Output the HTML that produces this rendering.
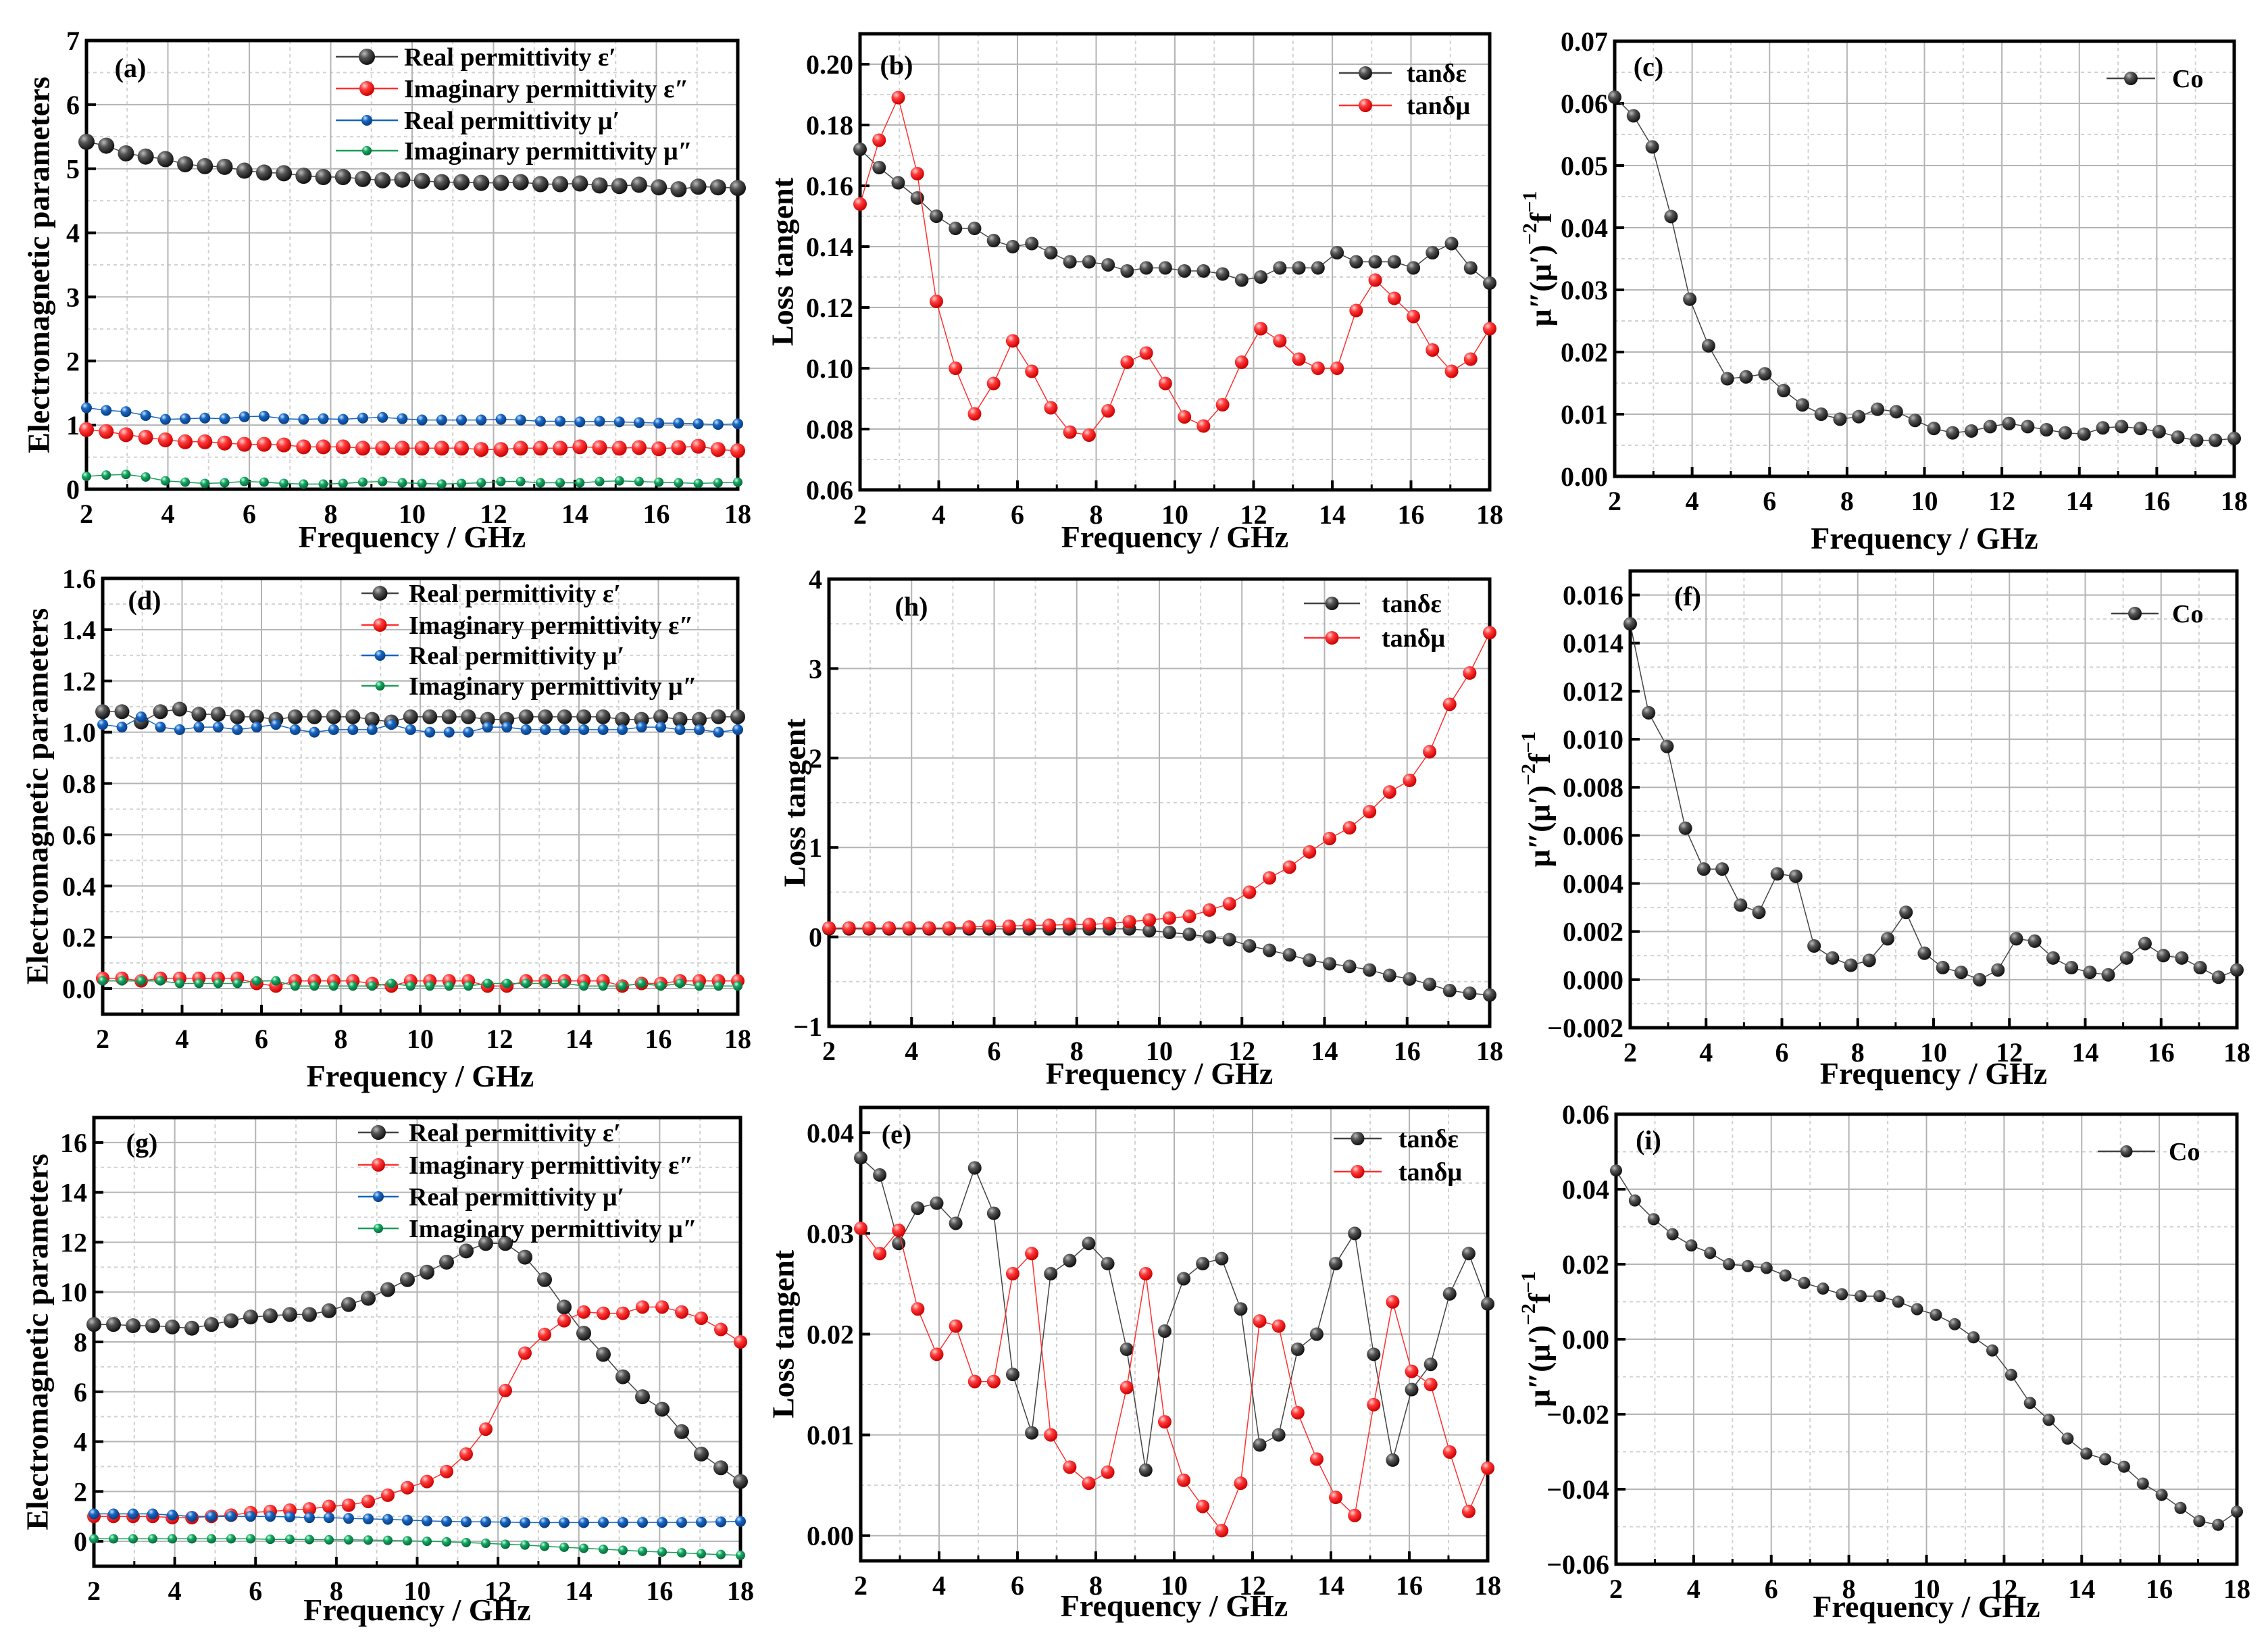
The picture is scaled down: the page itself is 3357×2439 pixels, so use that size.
<!DOCTYPE html>
<html><head><meta charset="utf-8">
<style>
html,body{margin:0;padding:0;background:#fff;}
svg{display:block;}
text{font-family:"Liberation Serif","DejaVu Serif",serif;font-weight:bold;fill:#000;}
</style></head>
<body>
<svg id="fig" width="3357" height="2439" viewBox="0 0 3357 2439" xmlns="http://www.w3.org/2000/svg">
<defs>
<radialGradient id="g-black" cx="35%" cy="30%" r="70%"><stop offset="0" stop-color="#bbb"/><stop offset="0.4" stop-color="#555"/><stop offset="1" stop-color="#111"/></radialGradient>
<radialGradient id="g-red" cx="35%" cy="30%" r="70%"><stop offset="0" stop-color="#ffd0d0"/><stop offset="0.4" stop-color="#ff3b3b"/><stop offset="1" stop-color="#c00"/></radialGradient>
<radialGradient id="g-blue" cx="35%" cy="30%" r="70%"><stop offset="0" stop-color="#cfe3ff"/><stop offset="0.4" stop-color="#1667c4"/><stop offset="1" stop-color="#0a3d80"/></radialGradient>
<radialGradient id="g-green" cx="35%" cy="30%" r="70%"><stop offset="0" stop-color="#d0ffe6"/><stop offset="0.4" stop-color="#14a862"/><stop offset="1" stop-color="#08693a"/></radialGradient>
</defs>
</svg>
<script>
// ---- data (34 points, 2..18 GHz) ----
const freqStart = 2, freqEnd = 18, nPts = 34;
const xTicks = [2,4,6,8,10,12,14,16,18];

const aEpsR = [5.42,5.36,5.24,5.19,5.15,5.07,5.04,5.03,4.97,4.94,4.93,4.89,4.87,4.87,4.84,4.82,4.83,4.81,4.79,4.79,4.78,4.78,4.79,4.76,4.76,4.77,4.74,4.73,4.75,4.71,4.68,4.72,4.71,4.70];
const aEpsI = [0.93,0.90,0.85,0.81,0.77,0.74,0.74,0.72,0.70,0.70,0.69,0.66,0.66,0.66,0.64,0.64,0.64,0.64,0.64,0.64,0.62,0.62,0.64,0.64,0.64,0.66,0.65,0.64,0.65,0.63,0.65,0.67,0.62,0.60];
const aMuR = [1.27,1.23,1.21,1.15,1.09,1.10,1.11,1.10,1.13,1.14,1.10,1.09,1.10,1.09,1.11,1.12,1.10,1.08,1.08,1.08,1.08,1.09,1.08,1.06,1.06,1.05,1.06,1.05,1.04,1.03,1.03,1.02,1.01,1.02];
const aMuI = [0.20,0.22,0.23,0.19,0.13,0.11,0.09,0.10,0.12,0.11,0.09,0.08,0.08,0.09,0.11,0.12,0.10,0.09,0.08,0.09,0.10,0.12,0.12,0.10,0.10,0.10,0.12,0.13,0.12,0.11,0.10,0.09,0.10,0.11];

const bTanE = [0.172,0.166,0.161,0.156,0.150,0.146,0.146,0.142,0.140,0.141,0.138,0.135,0.135,0.134,0.132,0.133,0.133,0.132,0.132,0.131,0.129,0.130,0.133,0.133,0.133,0.138,0.135,0.135,0.135,0.133,0.138,0.141,0.133,0.128];
const bTanM = [0.154,0.175,0.189,0.164,0.122,0.100,0.085,0.095,0.109,0.099,0.087,0.079,0.078,0.086,0.102,0.105,0.095,0.084,0.081,0.088,0.102,0.113,0.109,0.103,0.100,0.100,0.119,0.129,0.123,0.117,0.106,0.099,0.103,0.113];

const cCo = [0.061,0.058,0.053,0.0418,0.0285,0.021,0.0157,0.016,0.0165,0.0138,0.0115,0.0100,0.0092,0.0096,0.0108,0.0104,0.0090,0.0077,0.0070,0.0073,0.0080,0.0085,0.0080,0.0075,0.0070,0.0068,0.0078,0.0080,0.0077,0.0072,0.0063,0.0058,0.0058,0.0061];

const dEpsR = [1.08,1.08,1.04,1.08,1.09,1.07,1.07,1.06,1.06,1.05,1.06,1.06,1.06,1.06,1.05,1.04,1.06,1.06,1.06,1.06,1.05,1.05,1.06,1.06,1.06,1.06,1.06,1.05,1.05,1.06,1.05,1.05,1.06,1.06];
const dEpsI = [0.04,0.04,0.03,0.04,0.04,0.04,0.04,0.04,0.02,0.01,0.03,0.03,0.03,0.03,0.02,0.01,0.03,0.03,0.03,0.03,0.01,0.01,0.03,0.03,0.03,0.03,0.03,0.01,0.02,0.02,0.03,0.03,0.03,0.03];
const dMuR = [1.03,1.02,1.06,1.02,1.01,1.02,1.02,1.01,1.02,1.03,1.01,1.00,1.01,1.01,1.01,1.03,1.01,1.00,1.00,1.00,1.02,1.02,1.01,1.01,1.01,1.01,1.01,1.01,1.02,1.02,1.01,1.01,1.00,1.01];
const dMuI = [0.03,0.03,0.03,0.03,0.02,0.02,0.02,0.02,0.03,0.03,0.01,0.01,0.01,0.01,0.01,0.02,0.01,0.01,0.01,0.01,0.02,0.02,0.02,0.02,0.02,0.01,0.01,0.01,0.02,0.01,0.02,0.01,0.01,0.01];

const hTanE = [0.09,0.09,0.09,0.09,0.09,0.09,0.09,0.09,0.09,0.09,0.09,0.09,0.09,0.09,0.09,0.09,0.07,0.05,0.03,0.00,-0.03,-0.10,-0.15,-0.20,-0.26,-0.30,-0.33,-0.37,-0.43,-0.47,-0.53,-0.60,-0.63,-0.65];
const hTanM = [0.10,0.10,0.10,0.10,0.10,0.10,0.10,0.11,0.12,0.12,0.13,0.13,0.14,0.14,0.15,0.17,0.19,0.21,0.23,0.30,0.37,0.50,0.66,0.78,0.95,1.10,1.22,1.40,1.62,1.75,2.07,2.60,2.95,3.40];

const fCo = [0.0148,0.0111,0.0097,0.0063,0.0046,0.0046,0.0031,0.0028,0.0044,0.0043,0.0014,0.0009,0.0006,0.0008,0.0017,0.0028,0.0011,0.0005,0.0003,0.0000,0.0004,0.0017,0.0016,0.0009,0.0005,0.0003,0.0002,0.0009,0.0015,0.0010,0.0009,0.0005,0.0001,0.0004];

const gEpsR = [8.7,8.7,8.65,8.65,8.6,8.55,8.7,8.85,9.0,9.05,9.1,9.1,9.25,9.5,9.75,10.1,10.5,10.8,11.2,11.65,11.95,11.95,11.4,10.5,9.4,8.35,7.5,6.6,5.8,5.3,4.4,3.5,2.95,2.4];
const gEpsI = [1.0,1.0,1.0,1.0,0.95,0.95,1.0,1.05,1.15,1.2,1.25,1.3,1.4,1.45,1.6,1.85,2.15,2.4,2.8,3.5,4.5,6.05,7.55,8.3,8.85,9.2,9.15,9.15,9.4,9.4,9.2,8.95,8.5,8.0];
const gMuR = [1.1,1.1,1.1,1.1,1.05,1.0,1.0,1.0,1.0,1.0,0.98,0.95,0.95,0.92,0.9,0.88,0.85,0.82,0.8,0.78,0.78,0.77,0.75,0.75,0.75,0.75,0.76,0.76,0.76,0.76,0.76,0.77,0.78,0.8];
const gMuI = [0.1,0.1,0.1,0.1,0.1,0.1,0.1,0.1,0.1,0.08,0.08,0.07,0.06,0.06,0.05,0.04,0.02,0.0,-0.02,-0.05,-0.08,-0.12,-0.15,-0.2,-0.24,-0.28,-0.32,-0.36,-0.4,-0.43,-0.46,-0.5,-0.53,-0.56];

const eTanE = [0.0375,0.0358,0.029,0.0325,0.033,0.031,0.0365,0.032,0.016,0.0102,0.026,0.0273,0.029,0.027,0.0185,0.0065,0.0203,0.0255,0.027,0.0275,0.0225,0.009,0.010,0.0185,0.020,0.027,0.030,0.018,0.0075,0.0145,0.017,0.024,0.028,0.023];
const eTanM = [0.0305,0.028,0.0303,0.0225,0.018,0.0208,0.0153,0.0153,0.026,0.028,0.010,0.0068,0.0052,0.0063,0.0147,0.026,0.0113,0.0055,0.0029,0.0005,0.0052,0.0213,0.0208,0.0122,0.0076,0.0038,0.002,0.013,0.0232,0.0163,0.015,0.0083,0.0024,0.0067];

const iCo = [0.045,0.037,0.032,0.028,0.025,0.023,0.020,0.0195,0.019,0.017,0.015,0.0135,0.012,0.0115,0.0115,0.010,0.008,0.0065,0.004,0.0005,-0.003,-0.0095,-0.017,-0.0215,-0.0265,-0.0305,-0.032,-0.034,-0.0385,-0.0415,-0.045,-0.0485,-0.0495,-0.046];

// ---- rendering ----
const NS = "http://www.w3.org/2000/svg";
const svg = document.getElementById('fig');
const COL = {black:'#444', red:'#ff3030', blue:'#1565c0', green:'#1a9e5a'};
function mk(tag, attrs, parent){
  const el = document.createElementNS(NS, tag);
  for (const k in attrs) el.setAttribute(k, attrs[k]);
  (parent||svg).appendChild(el);
  return el;
}
const EP = ['Real permittivity \u03B5\u2032','Imaginary permittivity \u03B5\u2033','Real permittivity \u03BC\u2032','Imaginary permittivity \u03BC\u2033'];
const YT_EM = 'Electromagnetic parameters', YT_LT = 'Loss tangent';

const panels = [
 {id:'a', L:128,R:1092,T:60,B:724, y0:0,y1:7, yStep:1, dec:0, lbl:[193,100], yt:YT_EM, ytx:57, xly:810,
  series:[[aEpsR,'black',12],[aEpsI,'red',11],[aMuR,'blue',8],[aMuI,'green',7]], names:EP, leg:[497,589,598,[84,131,178,223]]},
 {id:'b', L:1273,R:2205,T:50,B:725, y0:0.06,y1:0.21, yStep:0.02, dec:2, lbl:[1327,96], yt:YT_LT, ytx:1158, xly:810,
  series:[[bTanE,'black',10],[bTanM,'red',10]], names:['tan\u03B4\u03B5','tan\u03B4\u03BC'], leg:[1982,2060,2082,[108,156]]},
 {id:'c', L:2390,R:3307,T:61,B:705, y0:0,y1:0.07, yStep:0.01, dec:2, lbl:[2440,98], yt:'mu', ytx:2280, xly:812,
  series:[[cCo,'black',10]], names:['Co'], leg:[3118,3190,3215,[116]]},
 {id:'d', L:152,R:1092,T:856,B:1501, y0:-0.1,y1:1.6, yStep:0.2, dec:1, lbl:[214,888], yt:YT_EM, ytx:55, xly:1608,
  series:[[dEpsR,'black',11],[dEpsI,'red',10],[dMuR,'blue',8],[dMuI,'green',7]], names:EP, leg:[535,590,605,[878,925,970,1015]]},
 {id:'h', L:1227,R:2205,T:857,B:1519, y0:-1,y1:4, yStep:1, dec:0, lbl:[1349,897], yt:YT_LT, ytx:1176, xly:1604,
  series:[[hTanE,'black',10],[hTanM,'red',10]], names:['tan\u03B4\u03B5','tan\u03B4\u03BC'], leg:[1930,2013,2045,[893,944]]},
 {id:'f', L:2413,R:3311,T:845,B:1521, y0:-0.002,y1:0.017, yStep:0.002, dec:3, lbl:[2498,882], yt:'mu', ytx:2278, xly:1604,
  series:[[fCo,'black',10]], names:['Co'], leg:[3125,3195,3215,[908]]},
 {id:'g', L:139,R:1096,T:1654,B:2318, y0:-1,y1:17, yStep:2, dec:0, lbl:[210,1691], yt:YT_EM, ytx:55, xly:2398,
  series:[[gEpsR,'black',11],[gEpsI,'red',10],[gMuR,'blue',8],[gMuI,'green',7]], names:EP, leg:[530,590,605,[1676,1724,1771,1818]]},
 {id:'e', L:1274,R:2202,T:1639,B:2310, y0:-0.0025,y1:0.0425, yStep:0.01, dec:2, lbl:[1327,1678], yt:YT_LT, ytx:1159, xly:2392,
  series:[[eTanE,'black',10],[eTanM,'red',10]], names:['tan\u03B4\u03B5','tan\u03B4\u03BC'], leg:[1974,2045,2070,[1685,1734]]},
 {id:'i', L:2392,R:3311,T:1649,B:2315, y0:-0.06,y1:0.06, yStep:0.02, dec:2, lbl:[2440,1687], yt:'mu', ytx:2278, xly:2393,
  series:[[iCo,'black',9]], names:['Co'], leg:[3105,3190,3210,[1704]]}
];

function fmt(v,dec){ let s=Math.abs(v)<1e-9?(0).toFixed(dec):v.toFixed(dec); return s.replace('-','\u2212'); }

panels.forEach(p=>{
  const g = mk('g',{});
  
  
  const sx = v => p.L + (v-freqStart)/(freqEnd-freqStart)*(p.R-p.L);
  const sy = v => p.B - (v-p.y0)/(p.y1-p.y0)*(p.B-p.T);
  for (let f=3; f<18; f+=2){ const x=sx(f); mk('line',{x1:x,y1:p.T,x2:x,y2:p.B,stroke:'#d2d2d2','stroke-width':2,'stroke-dasharray':'5,5'},g); }
  const first = Math.ceil((p.y0-1e-9)/p.yStep)*p.yStep;
  for (let v=first-p.yStep/2; v<p.y1; v+=p.yStep){ if(v<=p.y0) continue; const y=sy(v); mk('line',{x1:p.L,y1:y,x2:p.R,y2:y,stroke:'#d2d2d2','stroke-width':2,'stroke-dasharray':'5,5'},g); }
  xTicks.forEach(f=>{ const x=sx(f); mk('line',{x1:x,y1:p.T,x2:x,y2:p.B,stroke:'#b4b4b4','stroke-width':2},g); });
  const yt=[]; for (let v=first; v<=p.y1+1e-9; v+=p.yStep) yt.push(+v.toFixed(6));
  yt.forEach(v=>{ const y=sy(v); mk('line',{x1:p.L,y1:y,x2:p.R,y2:y,stroke:'#b4b4b4','stroke-width':2},g);
    const t=mk('text',{x:p.L-10,y:y+14,'text-anchor':'end','font-size':40},g); t.textContent=fmt(v,p.dec);
     
    mk('line',{x1:p.L,y1:y,x2:p.L+14,y2:y,stroke:'#000','stroke-width':4},g);
  });
  xTicks.forEach(f=>{ const x=sx(f);
    mk('line',{x1:x,y1:p.B,x2:x,y2:p.B-14,stroke:'#000','stroke-width':4},g);
    const t=mk('text',{x:x,y:p.B+50,'text-anchor':'middle','font-size':40},g); t.textContent=f;
     
  });
  for (let f=3; f<18; f+=2){ const x=sx(f); mk('line',{x1:x,y1:p.B,x2:x,y2:p.B-8,stroke:'#000','stroke-width':3},g); }
  const fr=mk('rect',{x:p.L,y:p.T,width:p.R-p.L,height:p.B-p.T,fill:'none',stroke:'#000','stroke-width':5},g);
   
  p.series.forEach((s,si)=>{
    const vals=s[0], c=s[1], r=s[2];
    const sg=mk('g',{},g);
    
    
    const pts=vals.map((v,i)=>[sx(freqStart+i*(freqEnd-freqStart)/(nPts-1)), sy(v)]);
    mk('polyline',{points:pts.map(q=>q[0].toFixed(1)+','+q[1].toFixed(1)).join(' '),fill:'none',stroke:COL[c],'stroke-width':1.5},sg);
    pts.forEach(q=>{ const m=mk('circle',{cx:q[0],cy:q[1],r:r,fill:'url(#g-'+c+')'},sg);
        });
  });
  const lg=mk('g',{},g);
  
  
  p.series.forEach((s,si)=>{
    const y=p.leg[3][si], c=s[1];
    mk('line',{x1:p.leg[0],y1:y,x2:p.leg[1],y2:y,stroke:COL[c],'stroke-width':2.5},lg);
    mk('circle',{cx:(p.leg[0]+p.leg[1])/2,cy:y,r:s[2],fill:'url(#g-'+c+')'},lg);
    const t=mk('text',{x:p.leg[2],y:y+13,'font-size':38},lg); t.textContent=p.names[si];
     
  });
  const pl=mk('text',{x:p.lbl[0],y:p.lbl[1]+14,'font-size':40,'text-anchor':'middle'},g); pl.textContent='('+p.id+')';
   
  const xt=mk('text',{x:(p.L+p.R)/2,y:p.xly,'font-size':46,'text-anchor':'middle'},g); xt.textContent='Frequency / GHz';
   
  const cy=(p.T+p.B)/2;
  const yti=mk('text',{x:p.ytx,y:cy,'font-size':46,'text-anchor':'middle',transform:'rotate(-90 '+p.ytx+' '+cy+')','dominant-baseline':'central'},g);
  if (p.yt==='mu'){
    yti.textContent='\u03BC\u2033(\u03BC\u2032)';
    const s1=mk('tspan',{dy:-16,'font-size':30},yti); s1.textContent='\u22122';
    const s2=mk('tspan',{dy:16},yti); s2.textContent='f';
    const s3=mk('tspan',{dy:-16,'font-size':30},yti); s3.textContent='\u22121';
  } else yti.textContent=p.yt;
   
});
</script>
</body></html>
